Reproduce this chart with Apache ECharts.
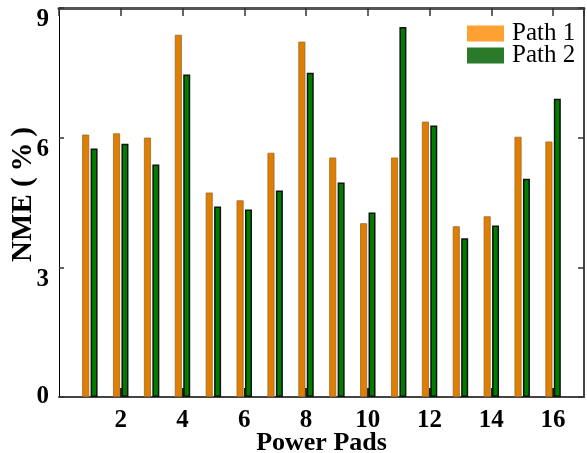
<!DOCTYPE html>
<html>
<head>
    <meta charset="utf-8">
    <title>NME per power pad</title>
    <script src="https://cdn.jsdelivr.net/npm/echarts@6/dist/echarts.min.js"></script>
</head>
<body style="margin:0">
    <div id="main" style="width: 587px;height:453px;"></div>
    <script type="text/javascript">
        // data
        var pads = [1, 2, 3, 4, 5, 6, 7, 8, 9, 10, 11, 12, 13, 14, 15, 16];
        var path1 = [6.07, 6.1, 6.0, 8.38, 4.73, 4.55, 5.65, 8.22, 5.54, 4.02, 5.54, 6.37, 3.95, 4.18, 6.02, 5.91];
        var path2 = [5.75, 5.86, 5.38, 7.46, 4.41, 4.34, 4.78, 7.5, 4.96, 4.27, 8.56, 6.28, 3.67, 3.97, 5.05, 6.9];
        var yTicks = [0, 3, 6, 9];

        var font = 'Liberation Serif';
        var myChart = echarts.init(document.getElementById('main'));

        var option = {
          animation: false,
          grid: { left: 59, right: 3, top: 8, bottom: 56, containLabel: false, outerBoundsMode: 'none' },
          legend: {
            left: 462, top: 16,
            orient: 'vertical',
            itemWidth: 37, itemHeight: 16, itemGap: -3,
            textStyle: { fontFamily: font, fontSize: 25, color: '#000', padding: [0, 0, 0, 3] },
            data: [
              { name: 'Path 1', icon: 'rect', itemStyle: { color: '#ffa033', borderWidth: 0 } },
              { name: 'Path 2', icon: 'rect', itemStyle: { color: '#2a7a2a', borderWidth: 0 } }
            ]
          },
          xAxis: [{
            type: 'value', min: 0, max: 17, interval: 2,
            name: 'Power Pads', nameLocation: 'middle', nameGap: 33, nameMoveOverlap: false,
            nameTextStyle: { fontFamily: font, fontSize: 26, fontWeight: 'bold', color: '#000' },
            axisLine: { onZero: false, lineStyle: { color: '#444', width: 2 } },
            axisTick: { inside: true, length: 9, lineStyle: { color: '#222', width: 2 } },
            axisLabel: {
              fontFamily: font, fontSize: 25, fontWeight: 'bold', color: '#000', margin: 11,
              showMinLabel: false, showMaxLabel: false,
              formatter: function (v) { return v % 2 === 0 && v > 0 ? v : ''; }
            },
            splitLine: { show: false }
          }, {
            type: 'value', min: 0, max: 17, interval: 2, position: 'top',
            axisLine: { show: true, onZero: false, lineStyle: { color: '#555', width: 3 } },
            axisTick: { show: true, inside: true, length: 8, lineStyle: { color: '#333', width: 1.5 } },
            axisLabel: { show: false },
            splitLine: { show: false }
          }],
          yAxis: [{
            type: 'value', min: yTicks[0], max: yTicks[yTicks.length - 1], interval: 3,
            name: 'NME (\u2009%\u2009)', nameLocation: 'middle', nameGap: 21, nameMoveOverlap: false,
            nameTextStyle: { fontFamily: font, fontSize: 29, fontWeight: 'bold', color: '#000', padding: [0, 0, 0, 16] },
            axisLine: { show: true, onZero: false, lineStyle: { color: '#000', width: 1 } },
            axisTick: { show: true, inside: true, length: 5, lineStyle: { color: '#333', width: 1.5 } },
            axisLabel: {
              fontFamily: font, fontSize: 25, fontWeight: 'bold', color: '#000', margin: 10,
              verticalAlign: 'middle', lineHeight: 24,
              // labels sit a little below their ticks in the original, except 0
              formatter: function (v) { return v === 0 ? '0' : '\n' + v; }
            },
            splitLine: { show: false }
          }, {
            type: 'value', min: 0, max: 9, interval: 3, position: 'right',
            axisLine: { show: true, onZero: false, lineStyle: { color: '#444', width: 2 } },
            axisTick: { show: true, inside: true, length: 6, lineStyle: { color: '#333', width: 1.5 } },
            axisLabel: { show: false },
            splitLine: { show: false }
          }],
          series: [{
            name: 'Path 1', type: 'bar',
            barWidth: 7, barGap: '20%',
            itemStyle: { color: '#e07e00', borderColor: '#9a6a30', borderWidth: 0.8 },
            data: pads.map(function (p, i) { return [p, path1[i]]; })
          }, {
            name: 'Path 2', type: 'bar',
            barWidth: 7, barGap: '20%',
            itemStyle: { color: '#007d00', borderColor: '#111', borderWidth: 1.5 },
            data: pads.map(function (p, i) { return [p, path2[i]]; })
          }]
        };
        myChart.setOption(option);
    </script>
</body>
</html>
